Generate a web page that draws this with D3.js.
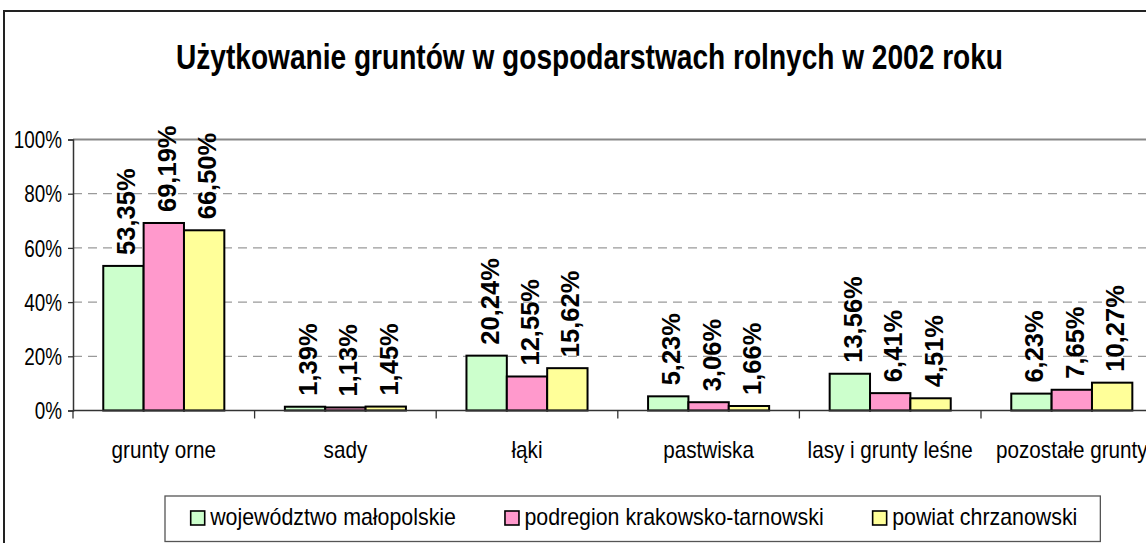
<!DOCTYPE html>
<html>
<head>
<meta charset="utf-8">
<script src="https://cdn.jsdelivr.net/npm/d3@7"></script>
<style>
  html, body { margin: 0; padding: 0; background: #fff; }
  svg { display: block; }
  text { font-family: "Liberation Sans", Arial, sans-serif; }
</style>
</head>
<body>
<svg id="chart" width="1146" height="543"></svg>
<script>
// ---- data ----
const title = "Użytkowanie gruntów w gospodarstwach rolnych w 2002 roku";
const categories = ["grunty orne", "sady", "łąki", "pastwiska", "lasy i grunty leśne", "pozostałe grunty"];
const seriesNames = ["województwo małopolskie", "podregion krakowsko-tarnowski", "powiat chrzanowski"];
const wojewodztwo = [53.35, 1.39, 20.24, 5.23, 13.56, 6.23];
const podregion   = [69.19, 1.13, 12.55, 3.06, 6.41, 7.65];
const powiat      = [66.50, 1.45, 15.62, 1.66, 4.51, 10.27];
const yTicks = [0, 20, 40, 60, 80, 100];
const tickLabels = ["0%", "20%", "40%", "60%", "80%", "100%"];

const seriesValues = [wojewodztwo, podregion, powiat];
const colors = ["#CCFFCC", "#FF99CC", "#FFFF99"];

const svg = d3.select("#chart");

// layout
const plotLeft = 73, catStep = 181.6;
const plotTop = 139.5, plotBottom = 410.5;

const x = d3.scaleBand().domain(categories)
  .range([plotLeft, plotLeft + catStep * categories.length]).padding(0);
const xs = d3.scaleBand().domain(d3.range(seriesNames.length))
  .range([0, x.bandwidth()]).paddingInner(0).paddingOuter(0.75);
const y = d3.scaleLinear().domain([0, 100]).range([plotBottom, plotTop]);

function condense(sel, factor) {
  sel.each(function () {
    const len = this.getComputedTextLength();
    d3.select(this).attr("textLength", len * factor).attr("lengthAdjust", "spacingAndGlyphs");
  });
}

// outer chart frame
svg.append("rect").attr("x", 4).attr("y", 11).attr("width", 1180).attr("height", 560)
  .attr("fill", "#fff").attr("stroke", "#222").attr("stroke-width", 2);

// title
svg.append("text").attr("x", 589.5).attr("y", 69).attr("text-anchor", "middle")
  .attr("font-size", 35).attr("font-weight", "bold").attr("fill", "#000")
  .text(title)
  .attr("textLength", 827).attr("lengthAdjust", "spacingAndGlyphs");

// gridlines
svg.append("g").selectAll("line").data(yTicks.filter(t => t > 0 && t < 100)).join("line")
  .attr("x1", plotLeft).attr("x2", x.range()[1])
  .attr("y1", d => y(d)).attr("y2", d => y(d))
  .attr("stroke", "#9a9a9a").attr("stroke-width", 1.3).attr("stroke-dasharray", "9,6");

// plot top border
svg.append("line").attr("x1", plotLeft).attr("x2", x.range()[1])
  .attr("y1", y(100)).attr("y2", y(100)).attr("stroke", "#888").attr("stroke-width", 2);

// y axis
const yAxis = d3.axisLeft(y).tickValues(yTicks).tickFormat((d, i) => tickLabels[i])
  .tickSize(5).tickPadding(6);
const gy = svg.append("g").attr("transform", `translate(${plotLeft},0)`).call(yAxis);
gy.select(".domain").attr("stroke", "#333").attr("stroke-width", 1.5);
gy.selectAll(".tick line").attr("stroke", "#333").attr("stroke-width", 1.3);
gy.selectAll(".tick text").attr("font-size", 23).attr("fill", "#000")
  .attr("font-family", "Liberation Sans, Arial, sans-serif").attr("dy", "0.36em");
condense(gy.selectAll(".tick text"), 0.82);

// bars
const groups = svg.append("g").selectAll("g").data(categories).join("g")
  .attr("transform", d => `translate(${x(d)},0)`);
groups.selectAll("rect").data((c, ci) => seriesValues.map((s, si) => ({ si, v: s[ci] }))).join("rect")
  .attr("x", d => xs(d.si)).attr("width", xs.bandwidth())
  .attr("y", d => y(d.v)).attr("height", d => y(0) - y(d.v))
  .attr("fill", d => colors[d.si]).attr("stroke", "#000").attr("stroke-width", 2);

// data labels
const fmt = v => v.toFixed(2).replace(".", ",") + "%";
groups.selectAll("text").data((c, ci) => seriesValues.map((s, si) => ({ si, v: s[ci] }))).join("text")
  .attr("transform", d => `translate(${xs(d.si) + xs.bandwidth() / 2},${y(d.v) - 11}) rotate(-90)`)
  .attr("dy", "0.47em").attr("font-size", 25.5).attr("font-weight", "bold").attr("fill", "#000")
  .text(d => fmt(d.v));

// x axis
const xAxis = d3.axisBottom(x).tickSize(0).tickPadding(0);
const gx = svg.append("g").attr("transform", `translate(0,${plotBottom})`).call(xAxis);
gx.select(".domain").remove();
svg.append("line").attr("x1", plotLeft).attr("x2", x.range()[1])
  .attr("y1", plotBottom).attr("y2", plotBottom).attr("stroke", "#333").attr("stroke-width", 1.5);
svg.append("g").selectAll("line").data(d3.range(categories.length + 1)).join("line")
  .attr("x1", i => plotLeft + i * x.step()).attr("x2", i => plotLeft + i * x.step())
  .attr("y1", plotBottom).attr("y2", plotBottom + 8).attr("stroke", "#333").attr("stroke-width", 1.3);
gx.selectAll(".tick text").attr("y", 0).attr("dy", 0)
  .attr("transform", "translate(0,47)")
  .attr("font-size", 24).attr("fill", "#000")
  .attr("font-family", "Liberation Sans, Arial, sans-serif");
condense(gx.selectAll(".tick text"), 0.86);

// legend
const lg = svg.append("g");
const lgBoxRect = lg.append("rect").attr("fill", "#fff").attr("stroke", "#555").attr("stroke-width", 1.3);
let lx = 190.7;
const itemEnds = [];
seriesNames.forEach((name, i) => {
  lg.append("rect").attr("x", lx).attr("y", 511).attr("width", 14).attr("height", 14)
    .attr("fill", colors[i]).attr("stroke", "#000").attr("stroke-width", 1.6);
  const t = lg.append("text").attr("x", lx + 19.5).attr("y", 525).attr("font-size", 24).attr("fill", "#000").text(name);
  condense(t, 0.89);
  const w = +t.attr("textLength");
  itemEnds.push(lx + 19.5 + w);
  lx = lx + 19.5 + w + 49;
});
lgBoxRect.attr("x", 165).attr("y", 496).attr("width", itemEnds[itemEnds.length - 1] + 23 - 165).attr("height", 45.5);
</script>
</body>
</html>
